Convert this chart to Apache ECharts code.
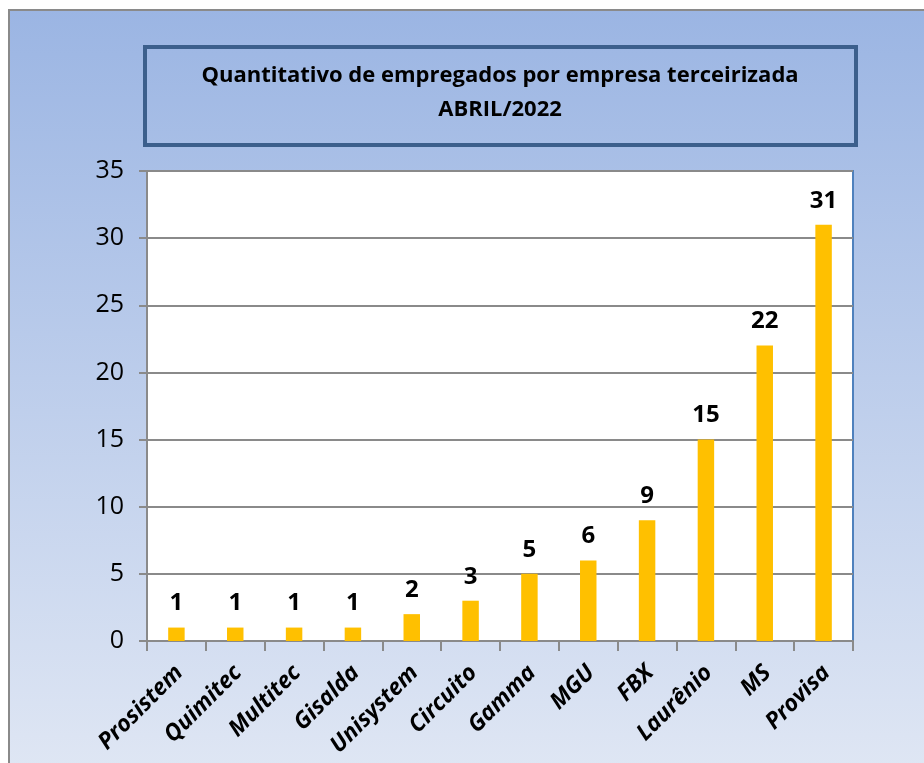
<!DOCTYPE html>
<html>
<head>
<meta charset="utf-8">
<script src="https://cdn.jsdelivr.net/npm/echarts@6/dist/echarts.min.js"></script>
<style>
  html, body { margin: 0; padding: 0; background: #fff; }
  #chart { width: 924px; height: 763px; }
</style>
</head>
<body>
<div id="chart"></div>
<script>
var empresas = ['Prosistem', 'Quimitec', 'Multitec', 'Gisalda', 'Unisystem', 'Circuito', 'Gamma', 'MGU', 'FBX', 'Laurênio', 'MS', 'Provisa'];
var empregados = [1, 1, 1, 1, 2, 3, 5, 6, 9, 15, 22, 31];
var titulo = 'Quantitativo de empregados por empresa terceirizada\nABRIL/2022';

var myChart = echarts.init(document.getElementById('chart'));

var fonte = '"Open Sans", Lato, sans-serif';

var option = {
    backgroundColor: '#ffffff',
    textStyle: { fontFamily: fonte },
    graphic: [
        {   // fundo com gradiente e borda cinza
            type: 'rect',
            z: -10,
            shape: { x: 9, y: 10, width: 930, height: 770 },
            style: {
                fill: new echarts.graphic.LinearGradient(0, 0, 0, 1, [
                    { offset: 0, color: '#9bb5e3' },
                    { offset: 1, color: '#e0e7f4' }
                ]),
                stroke: '#8a8a8a',
                lineWidth: 2
            }
        },
        {   // caixa do título
            type: 'rect',
            z: -5,
            shape: { x: 145, y: 47, width: 711, height: 98 },
            style: {
                fill: 'transparent',
                stroke: '#3c5f8c',
                lineWidth: 4
            }
        },
        {   // título centralizado na caixa
            type: 'text',
            z: 10,
            style: {
                text: titulo,
                x: 500,
                y: 59,
                textAlign: 'center',
                fontFamily: fonte,
                fontSize: 22,
                fontWeight: 'bold',
                fill: '#000',
                lineHeight: 34
            }
        }
    ],
    grid: {
        left: 147,
        top: 171,
        width: 706,
        height: 470,
        show: true,
        backgroundColor: '#ffffff',
        borderColor: '#4f81bd',
        borderWidth: 2
    },
    xAxis: {
        type: 'category',
        data: empresas,
        axisLine: { lineStyle: { color: '#8a8a8a', width: 2 } },
        axisTick: { show: true, length: 10, lineStyle: { color: '#8a8a8a', width: 2 } },
        axisLabel: {
            rotate: 45,
            interval: 0,
            margin: 31,
            padding: [0, -4, 0, 0],
            color: '#000',
            fontSize: 23,
            fontWeight: 'bold',
            fontStyle: 'italic',
            fontFamily: fonte
        }
    },
    yAxis: {
        type: 'value',
        min: 0,
        max: 35,
        interval: 5,
        axisLine: { show: true, lineStyle: { color: '#8a8a8a', width: 2 } },
        axisTick: { show: true, length: 8, lineStyle: { color: '#8a8a8a', width: 2 } },
        splitLine: { lineStyle: { color: '#8a8a8a', width: 2 } },
        axisLabel: {
            margin: 23,
            color: '#000',
            fontSize: 25,
            fontFamily: fonte
        }
    },
    series: [
        {
            type: 'bar',
            data: empregados,
            barWidth: '28%',
            itemStyle: { color: '#ffc000' },
            label: {
                show: true,
                position: 'top',
                distance: 12,
                color: '#000',
                fontSize: 24,
                fontWeight: 'bold',
                fontFamily: fonte
            }
        }
    ]
};

myChart.setOption(option);
</script>
</body>
</html>
